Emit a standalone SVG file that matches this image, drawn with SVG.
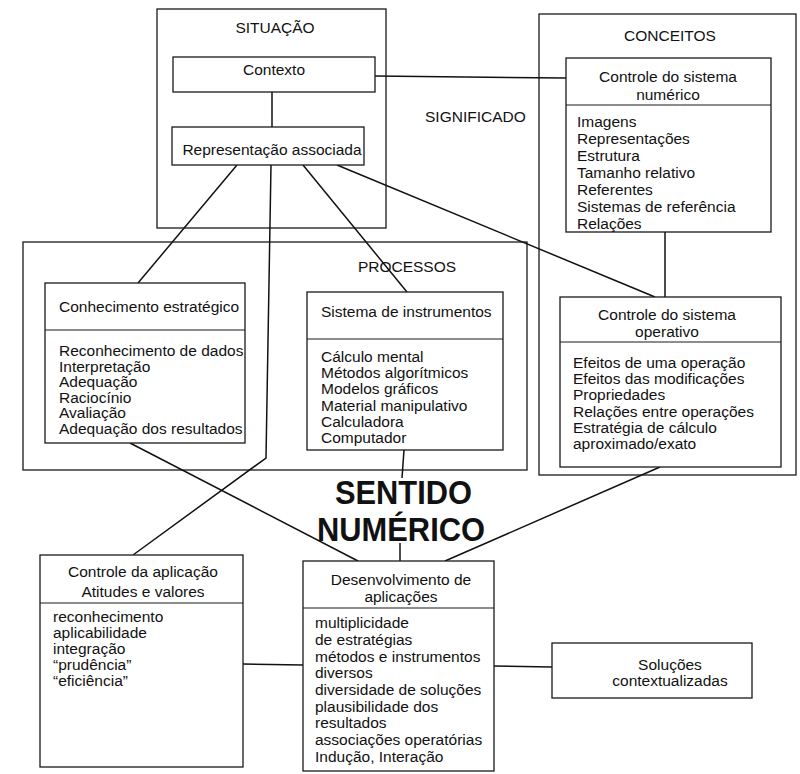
<svg xmlns="http://www.w3.org/2000/svg" width="800" height="774" viewBox="0 0 800 774">
  <style>
    .frame { fill: none; stroke: #1a1a1a; stroke-width: 1.3; }
    .box { fill: #ffffff; stroke: #1a1a1a; stroke-width: 1.3; }
    .div { stroke: #1a1a1a; stroke-width: 1.2; }
    .conn line, .conn polyline { fill: none; stroke: #111; stroke-width: 1.5; }
    text { font-family: "Liberation Sans", Arial, Helvetica, sans-serif; font-size: 15.5px; fill: #111; }
    .c { text-anchor: middle; }
    .big { font-size: 33px; font-weight: bold; text-anchor: middle; }
  </style>
  <rect width="800" height="774" fill="#ffffff"/>

  <!-- grouping frames -->
  <g id="situacao">
    <rect class="frame" x="157" y="9" width="229" height="219"/>
    <text class="c" x="275" y="33">SITUAÇÃO</text>
  </g>
  <g id="conceitos">
    <rect class="frame" x="539" y="14" width="257" height="461"/>
    <text class="c" x="670" y="41">CONCEITOS</text>
  </g>
  <g id="processos">
    <rect class="frame" x="23" y="242" width="504" height="228"/>
    <text class="c" x="407" y="272">PROCESSOS</text>
  </g>
  <g id="significado">
    <text x="425" y="122">SIGNIFICADO</text>
  </g>

  <!-- connectors -->
  <g id="connectors" class="conn">
    <line x1="375" y1="76" x2="566" y2="78"/>
    <line x1="272" y1="92" x2="272" y2="127"/>
    <line x1="237" y1="165" x2="138" y2="283"/>
    <polyline points="271,165 266,458 133,555"/>
    <line x1="303" y1="165" x2="407" y2="292"/>
    <line x1="337" y1="165" x2="655" y2="297"/>
    <line x1="665" y1="232" x2="665" y2="297"/>
    <line x1="130" y1="443" x2="358" y2="561"/>
    <line x1="404" y1="450" x2="402" y2="478"/>
    <line x1="400" y1="543" x2="400" y2="561"/>
    <line x1="660" y1="467" x2="445" y2="561"/>
    <line x1="243" y1="664" x2="303" y2="665"/>
    <line x1="494" y1="666" x2="552" y2="667"/>
  </g>

  <g id="contexto">
    <rect class="box" x="173" y="57" width="202" height="35"/>
    <text class="c" x="274" y="75">Contexto</text>
  </g>

  <g id="representacao">
    <rect class="box" x="172" y="127" width="192" height="38"/>
    <text class="c" x="272" y="155">Representação associada</text>
  </g>

  <g id="sistema-numerico">
    <rect class="box" x="566" y="58" width="205" height="174"/>
    <line class="div" x1="566" y1="105" x2="771" y2="105"/>
    <text class="c" x="668" y="82">Controle do sistema</text>
    <text class="c" x="668" y="100">numérico</text>
    <text x="577" y="127">Imagens</text>
    <text x="577" y="144">Representações</text>
    <text x="577" y="161">Estrutura</text>
    <text x="577" y="178">Tamanho relativo</text>
    <text x="577" y="195">Referentes</text>
    <text x="577" y="212">Sistemas de referência</text>
    <text x="577" y="229">Relações</text>
  </g>

  <g id="conhecimento-estrategico">
    <rect class="box" x="45" y="283" width="200" height="160"/>
    <line class="div" x1="45" y1="330" x2="245" y2="330"/>
    <text x="59" y="312">Conhecimento estratégico</text>
    <text x="59" y="356">Reconhecimento de dados</text>
    <text x="59" y="371.5">Interpretação</text>
    <text x="59" y="387">Adequação</text>
    <text x="59" y="402.5">Raciocínio</text>
    <text x="59" y="418">Avaliação</text>
    <text x="59" y="433.5">Adequação dos resultados</text>
  </g>

  <g id="sistema-instrumentos">
    <rect class="box" x="307" y="292" width="196" height="158"/>
    <line class="div" x1="307" y1="339" x2="503" y2="339"/>
    <text x="321" y="317">Sistema de instrumentos</text>
    <text x="321" y="362">Cálculo mental</text>
    <text x="321" y="378">Métodos algorítmicos</text>
    <text x="321" y="394">Modelos gráficos</text>
    <text x="321" y="410.5">Material manipulativo</text>
    <text x="321" y="427">Calculadora</text>
    <text x="321" y="443">Computador</text>
  </g>

  <g id="sistema-operativo">
    <rect class="box" x="560" y="297" width="221" height="170"/>
    <line class="div" x1="560" y1="342" x2="781" y2="342"/>
    <text class="c" x="667" y="320">Controle do sistema</text>
    <text class="c" x="667" y="337">operativo</text>
    <text x="573" y="368">Efeitos de uma operação</text>
    <text x="573" y="384">Efeitos das modificações</text>
    <text x="573" y="400">Propriedades</text>
    <text x="573" y="417">Relações entre operações</text>
    <text x="573" y="433">Estratégia de cálculo</text>
    <text x="573" y="449">aproximado/exato</text>
  </g>

  <g id="sentido-numerico">
    <text class="big" x="403.5" y="504" textLength="137" lengthAdjust="spacingAndGlyphs">SENTIDO</text>
    <text class="big" x="401" y="541" textLength="168" lengthAdjust="spacingAndGlyphs">NUMÉRICO</text>
  </g>

  <g id="controle-aplicacao">
    <rect class="box" x="40" y="555" width="203" height="212"/>
    <line class="div" x1="40" y1="603" x2="243" y2="603"/>
    <text class="c" x="143" y="577">Controle da aplicação</text>
    <text class="c" x="143" y="597">Atitudes e valores</text>
    <text x="53" y="622">reconhecimento</text>
    <text x="53" y="638">aplicabilidade</text>
    <text x="53" y="654">integração</text>
    <text x="53" y="670">“prudência”</text>
    <text x="53" y="686">“eficiência”</text>
  </g>

  <g id="desenvolvimento-aplicacoes">
    <rect class="box" x="303" y="561" width="191" height="210"/>
    <line class="div" x1="303" y1="608" x2="494" y2="608"/>
    <text class="c" x="401" y="585">Desenvolvimento de</text>
    <text class="c" x="401" y="602">aplicações</text>
    <text x="315" y="628">multiplicidade</text>
    <text x="315" y="644.5">de estratégias</text>
    <text x="315" y="661.5">métodos e instrumentos</text>
    <text x="315" y="678">diversos</text>
    <text x="315" y="695">diversidade de soluções</text>
    <text x="315" y="711.5">plausibilidade dos</text>
    <text x="315" y="728">resultados</text>
    <text x="315" y="745">associações operatórias</text>
    <text x="315" y="762">Indução, Interação</text>
  </g>

  <g id="solucoes-contextualizadas">
    <rect class="box" x="552" y="643" width="200" height="55"/>
    <text class="c" x="670" y="670">Soluções</text>
    <text class="c" x="670" y="686">contextualizadas</text>
  </g>
</svg>
